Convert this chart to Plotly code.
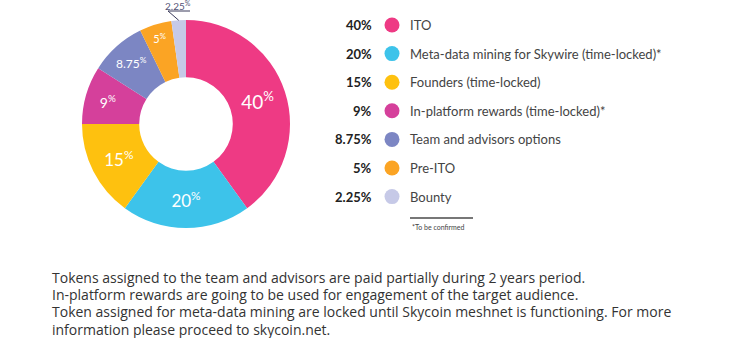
import plotly.graph_objects as go
import math

categories = ["ITO", "Meta-data mining for Skywire (time-locked)*", "Founders (time-locked)",
              "In-platform rewards (time-locked)*", "Team and advisors options", "Pre-ITO", "Bounty"]
values = [40, 20, 15, 9, 8.75, 5, 2.25]
value_labels = ["40", "20", "15", "9", "8.75", "5", "2.25"]
colors = ["#EE3A84", "#3DC3EA", "#FEC10F", "#D5409B", "#7C86C3", "#FBA424", "#C6C9E7"]
notes = [
    "Tokens assigned to the team and advisors are paid partially during 2 years period.",
    "In-platform rewards are going to be used for engagement of the target audience.",
    "Token assigned for meta-data mining are locked until Skycoin meshnet is functioning. For more",
    "information please proceed to skycoin.net.",
]
footnote = "*To be confirmed"

W, H = 754, 338
FONT = "Lato"
# pie geometry (pixels)
cx, cy, R = 186, 124, 104

text_sizes = [19, 17, 17, 14, 12, 11, 10]
pie_text = [f"{v}<sup>%</sup>" for v in value_labels]
textpos = ["inside"] * (len(values) - 1) + ["none"]

fig = go.Figure()
fig.add_trace(go.Pie(
    values=values, labels=categories, text=pie_text, textinfo="text",
    textposition=textpos, insidetextorientation="horizontal",
    marker=dict(colors=colors, line=dict(width=0)),
    hole=0.45, sort=False, direction="clockwise", rotation=0,
    textfont=dict(family=FONT, color="white", size=text_sizes),
    showlegend=False, hoverinfo="label+value",
    domain=dict(x=[(cx - R) / W, (cx + R) / W], y=[(H - cy - R) / H, (H - cy + R) / H]),
))

# legend rows
row_y = [25 + i * 28.6 for i in range(len(categories))]
fig.add_trace(go.Scatter(
    x=[392] * len(categories), y=row_y, mode="markers",
    marker=dict(size=15, color=colors, line=dict(width=0)),
    showlegend=False, hoverinfo="skip", xaxis="x", yaxis="y",
))

annotations = []
for lab, v, y in zip(categories, value_labels, row_y):
    annotations.append(dict(x=374, y=y, xref="x", yref="y", text=f"<b>{v}%</b>", showarrow=False,
                            xanchor="right", yanchor="middle",
                            font=dict(family=FONT, size=13, color="#222222")))
    annotations.append(dict(x=408, y=y, xref="x", yref="y", text=lab, showarrow=False,
                            xanchor="left", yanchor="middle",
                            font=dict(family=FONT, size=13, color="#444444")))

annotations.append(dict(x=410, y=227, xref="x", yref="y", text=footnote, showarrow=False,
                        xanchor="left", yanchor="middle",
                        font=dict(family=FONT, size=7, color="#444444")))

for i, line in enumerate(notes):
    annotations.append(dict(x=50, y=277 + i * 17.4, xref="x", yref="y", text=line, showarrow=False,
                            xanchor="left", yanchor="middle",
                            font=dict(family="Open Sans", size=14, color="#333333")))

# Bounty outside label with leader line
cum = sum(values[:-1]) + values[-1] / 2
ang = 2 * math.pi * cum / sum(values)
ex = cx + R * math.sin(ang)
ey = cy - R * math.cos(ang)
annotations.append(dict(x=178, y=5, xref="x", yref="y", text=f"{value_labels[-1]}<sup>%</sup>",
                        showarrow=False, xanchor="center", yanchor="middle",
                        font=dict(family=FONT, size=10, color="#555577")))

shapes = [
    dict(type="line", x0=410, x1=473, y0=218, y1=218, xref="x", yref="y",
         line=dict(color="#777777", width=2)),
    dict(type="path", path=f"M 190 11 L 168 11 L {ex:.1f} {ey:.1f}", xref="x", yref="y",
         line=dict(color="#3a3a5a", width=1)),
]

fig.update_layout(
    width=W, height=H, margin=dict(l=0, r=0, t=0, b=0),
    paper_bgcolor="white", plot_bgcolor="rgba(0,0,0,0)",
    xaxis=dict(range=[0, W], visible=False, fixedrange=True),
    yaxis=dict(range=[H, 0], visible=False, fixedrange=True),
    annotations=annotations, shapes=shapes,
)

fig.write_html("out.html")
